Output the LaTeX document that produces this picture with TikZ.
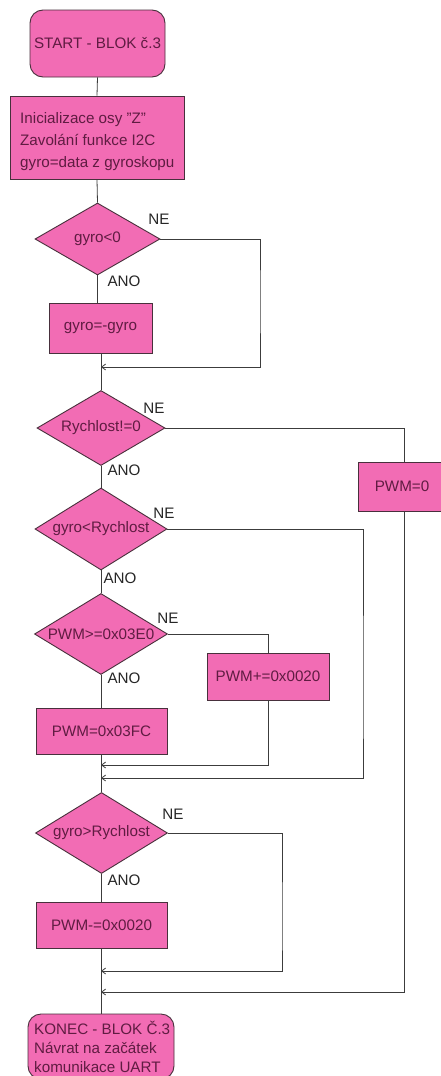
\documentclass[tikz,border=0pt]{standalone}
\usepackage{fontspec}
\setmainfont{Liberation Sans}
\usetikzlibrary{shapes.geometric,arrows.meta}
\definecolor{boxfill}{RGB}{242,108,180}
\definecolor{boxline}{RGB}{72,48,60}
\definecolor{boxtext}{RGB}{96,28,66}
\definecolor{wirecol}{RGB}{60,60,60}
\tikzset{
  every node/.style={font=\fontsize{15.2}{17}\selectfont},
  term/.style={draw=boxline, fill=boxfill, rounded corners=13pt, line width=0.9pt, inner sep=0pt},
  proc/.style={draw=boxline, fill=boxfill, line width=0.9pt, inner sep=0pt, text=boxtext},
  dec/.style={draw=boxline, fill=boxfill, diamond, line width=0.9pt, inner sep=0pt},
  dectext/.style={text=boxtext, inner sep=0pt},
  lbl/.style={text=black!85, inner sep=0pt},
  wireline/.style={draw=wirecol, line width=0.8pt},
  mergearrow/.style={wireline, -{Straight Barb[length=4pt,width=6pt]}}
}
\begin{document}
\begin{tikzpicture}[x=1pt,y=-1pt]
\useasboundingbox[fill=white] (0,0) rectangle (440,1076);

% start / init
\node[term, minimum width=135pt, minimum height=67pt, text=boxtext] (start) at (97.5,43.5) {START - BLOK č.3};
\node[proc, minimum width=174pt, minimum height=83pt] (init) at (97,137.5) {};
\node[text=boxtext, align=left, inner sep=0pt, anchor=west, font=\fontsize{15.2}{22}\selectfont] (inittext) at (20,142)
  {Inicializace osy "Z"\\Zavolání funkce I2C\\gyro=data z gyroskopu};

% gyro<0
\node[dec, minimum width=125pt, minimum height=72pt] (d1) at (97.5,239) {};
\node[dectext] (d1t) at (d1) {gyro<0};
\node[proc, minimum width=103pt, minimum height=50pt] (b1) at (100.5,328) {gyro=-gyro};
\coordinate (m1) at (101,367);

% Rychlost!=0
\node[dec, minimum width=128pt, minimum height=75pt] (d2) at (101,428) {};
\node[dectext] (d2t) at (d2) {Rychlost!=0};
\node[proc, minimum width=92pt, minimum height=49pt] (pwm0) at (404,486.5) {};
\node[text=boxtext, inner sep=0pt] (pwm0t) at (402,486.5) {PWM=0};

% gyro<Rychlost
\node[dec, minimum width=132pt, minimum height=82pt] (d3) at (101,529) {};
\node[dectext] (d3t) at (d3) {gyro<Rychlost};

% PWM>=0x03E0
\node[dec, minimum width=133pt, minimum height=81pt] (d4) at (101,634) {};
\node[dectext] (d4t) at (d4) {PWM>=0x03E0};
\node[proc, minimum width=122pt, minimum height=47pt] (bplus) at (268,676.5) {PWM+=0x0020};
\node[proc, minimum width=131pt, minimum height=46pt] (bfc) at (101.5,731) {PWM=0x03FC};
\coordinate (m3) at (101,765);
\coordinate (m2) at (101,778);

% gyro>Rychlost
\node[dec, minimum width=132pt, minimum height=81pt] (d5) at (101.5,833) {};
\node[dectext] (d5t) at (d5) {gyro>Rychlost};
\node[proc, minimum width=131pt, minimum height=46pt] (bminus) at (101.5,925) {PWM-=0x0020};
\coordinate (m4) at (101,971);
\coordinate (m5) at (101,992);

% end
\node[term, minimum width=146pt, minimum height=65pt] (end) at (101,1046.5) {};
\node[text=boxtext, align=left, inner sep=0pt, anchor=west, font=\fontsize{15.2}{19}\selectfont] (endtext) at (34,1047)
  {KONEC - BLOK Č.3\\Návrat na začátek\\komunikace UART};

% yes/no labels
\node[lbl] (n1) at (159,219) {NE};
\node[lbl] (a1) at (124,281) {ANO};
\node[lbl] (n2) at (154,408) {NE};
\node[lbl] (a2) at (124,470) {ANO};
\node[lbl] (n3) at (164,513) {NE};
\node[lbl] (a3) at (120,578) {ANO};
\node[lbl] (n4) at (168,618) {NE};
\node[lbl] (a4) at (124,678) {ANO};
\node[lbl] (n5) at (173,814) {NE};
\node[lbl] (a5) at (124,880) {ANO};

% main flow
\draw[wireline] (start.south) -- (init.north);
\draw[wireline] (init.south) -- (d1.north);
\draw[wireline] (d1.south) -- (d1.south |- b1.north);
\draw[wireline] (b1.south -| m1) -- (d2.north);
\draw[wireline] (d2.south) -- (d3.north);
\draw[wireline] (d3.south) -- (d4.north);
\draw[wireline] (d4.south) -- (bfc.north -| d4.south);
\draw[wireline] (bfc.south -| m3) -- (d5.north -| m3);
\draw[wireline] (d5.south -| m4) -- (bminus.north -| m4);
\draw[wireline] (bminus.south -| m4) -- (end.north -| m4);

% NE branches
\draw[mergearrow] (d1.east) -| (260,300) |- (m1);
\draw[wireline] (d2.east) -| (pwm0.north);
\draw[mergearrow] (pwm0.south) |- (m5);
\draw[mergearrow] (d3.east) -| (363,700) |- (m2);
\draw[wireline] (d4.east) -| (bplus.north);
\draw[mergearrow] (bplus.south) |- (m3);
\draw[mergearrow] (d5.east) -| (282,930) |- (m4);
\end{tikzpicture}
\end{document}
